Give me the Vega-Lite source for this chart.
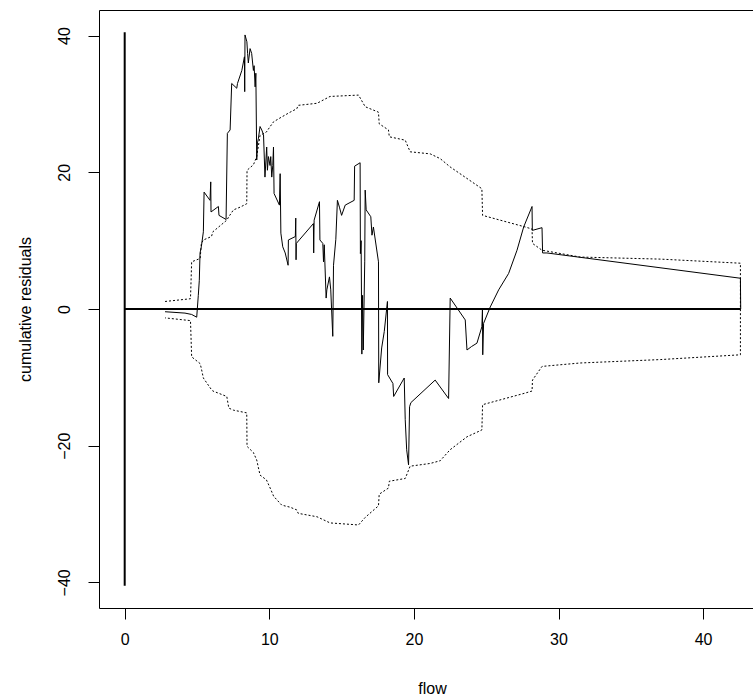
{
  "$schema": "https://vega.github.io/schema/vega-lite/v6.json",
  "width": 654,
  "height": 598,
  "autosize": {"type": "none"},
  "padding": {"left": 99, "top": 10, "right": 0, "bottom": 90},
  "background": "white",
  "config": {
    "view": {"stroke": null},
    "axis": {
      "labelFont": "Liberation Sans", "titleFont": "Liberation Sans",
      "labelFontSize": 16, "titleFontSize": 16, "titleFontWeight": "normal",
      "labelColor": "#000", "titleColor": "#000", "tickColor": "#000", "domainColor": "#000",
      "grid": false, "tickSize": 11, "tickWidth": 1, "domainWidth": 1
    }
  },
  "datasets": {
    "band": [
      {"x":2.79,"y":1.1,"o":1},{"x":4.55,"y":1.5,"o":2},{"x":4.63,"y":6.9,"o":3},{"x":5.22,"y":7.4,"o":4},{"x":5.3,"y":9.6,"o":5},{"x":5.44,"y":10.1,"o":6},{"x":6.0,"y":10.6,"o":7},{"x":6.1,"y":11.3,"o":8},{"x":7.06,"y":13.0,"o":9},{"x":7.2,"y":13.5,"o":10},{"x":7.52,"y":14.5,"o":11},{"x":7.98,"y":14.9,"o":12},{"x":8.44,"y":15.4,"o":13},{"x":8.46,"y":20.3,"o":14},{"x":8.9,"y":21.1,"o":15},{"x":9.13,"y":22.3,"o":16},{"x":9.36,"y":25.4,"o":17},{"x":9.8,"y":25.9,"o":18},{"x":10.06,"y":26.7,"o":19},{"x":10.3,"y":27.4,"o":20},{"x":10.86,"y":28.1,"o":21},{"x":11.44,"y":28.8,"o":22},{"x":11.9,"y":29.3,"o":23},{"x":12.0,"y":29.8,"o":24},{"x":13.3,"y":30.1,"o":25},{"x":14.2,"y":31.1,"o":26},{"x":16.17,"y":31.3,"o":27},{"x":16.63,"y":29.6,"o":28},{"x":17.55,"y":28.8,"o":29},{"x":17.6,"y":27.1,"o":30},{"x":18.24,"y":26.2,"o":31},{"x":18.3,"y":25.2,"o":32},{"x":19.4,"y":24.7,"o":33},{"x":19.74,"y":23.0,"o":34},{"x":21.13,"y":22.7,"o":35},{"x":21.82,"y":22.0,"o":36},{"x":22.5,"y":20.8,"o":37},{"x":23.67,"y":19.1,"o":38},{"x":24.7,"y":17.6,"o":39},{"x":24.75,"y":13.7,"o":40},{"x":27.7,"y":12.0,"o":41},{"x":28.17,"y":11.7,"o":42},{"x":28.2,"y":9.6,"o":43},{"x":28.86,"y":8.6,"o":44},{"x":31.5,"y":7.6,"o":45},{"x":37.05,"y":7.3,"o":46},{"x":42.58,"y":6.7,"o":47},
      {"x":42.58,"y":-6.7,"o":48},{"x":37.05,"y":-7.4,"o":49},{"x":31.5,"y":-7.9,"o":50},{"x":28.86,"y":-8.4,"o":51},{"x":28.2,"y":-10.4,"o":52},{"x":28.17,"y":-12.0,"o":53},{"x":27.7,"y":-12.3,"o":54},{"x":24.75,"y":-14.0,"o":55},{"x":24.7,"y":-17.7,"o":56},{"x":23.67,"y":-18.7,"o":57},{"x":22.5,"y":-20.6,"o":58},{"x":21.82,"y":-22.2,"o":59},{"x":21.13,"y":-22.6,"o":60},{"x":19.74,"y":-23.0,"o":61},{"x":19.4,"y":-24.8,"o":62},{"x":18.3,"y":-25.2,"o":63},{"x":18.24,"y":-26.2,"o":64},{"x":17.6,"y":-27.1,"o":65},{"x":17.55,"y":-28.8,"o":66},{"x":16.63,"y":-30.5,"o":67},{"x":16.17,"y":-31.6,"o":68},{"x":14.2,"y":-31.3,"o":69},{"x":13.3,"y":-30.4,"o":70},{"x":12.0,"y":-29.9,"o":71},{"x":11.9,"y":-29.4,"o":72},{"x":11.44,"y":-29.0,"o":73},{"x":10.86,"y":-28.7,"o":74},{"x":10.3,"y":-27.4,"o":75},{"x":10.06,"y":-26.2,"o":76},{"x":9.8,"y":-25.0,"o":77},{"x":9.36,"y":-24.3,"o":78},{"x":9.13,"y":-22.1,"o":79},{"x":8.9,"y":-21.0,"o":80},{"x":8.46,"y":-20.1,"o":81},{"x":8.44,"y":-15.2,"o":82},{"x":7.98,"y":-15.0,"o":83},{"x":7.52,"y":-14.8,"o":84},{"x":7.2,"y":-14.5,"o":85},{"x":7.06,"y":-12.8,"o":86},{"x":6.1,"y":-12.0,"o":87},{"x":6.0,"y":-11.8,"o":88},{"x":5.44,"y":-10.1,"o":89},{"x":5.3,"y":-8.7,"o":90},{"x":5.22,"y":-8.0,"o":91},{"x":4.63,"y":-7.0,"o":92},{"x":4.55,"y":-1.7,"o":93},{"x":2.79,"y":-1.3,"o":94}
    ],
    "curve": [
      {"i":1,"x":2.79,"y":-0.4},{"i":2,"x":4.17,"y":-0.6},{"i":3,"x":4.63,"y":-0.8},{"i":4,"x":4.98,"y":-1.2},{"i":5,"x":5.09,"y":2.0},{"i":6,"x":5.16,"y":4.2},{"i":7,"x":5.21,"y":8.2},{"i":8,"x":5.3,"y":9.1},{"i":9,"x":5.44,"y":11.3},{"i":10,"x":5.49,"y":17.1},
      {"i":11,"x":5.9,"y":15.9},{"i":12,"x":5.95,"y":18.6},{"i":13,"x":5.97,"y":14.2},{"i":14,"x":6.48,"y":15.0},{"i":15,"x":6.52,"y":13.7},{"i":16,"x":7.01,"y":13.1},{"i":17,"x":7.1,"y":25.7},{"i":18,"x":7.29,"y":26.2},{"i":19,"x":7.4,"y":33.0},{"i":20,"x":7.75,"y":32.3},
      {"i":21,"x":7.8,"y":33.0},{"i":22,"x":8.1,"y":34.9},{"i":23,"x":8.28,"y":36.9},{"i":24,"x":8.3,"y":31.8},{"i":25,"x":8.32,"y":40.1},{"i":26,"x":8.45,"y":39.1},{"i":27,"x":8.5,"y":37.4},{"i":28,"x":8.55,"y":36.0},{"i":29,"x":8.67,"y":38.1},{"i":30,"x":8.78,"y":37.4},
      {"i":31,"x":8.9,"y":34.9},{"i":32,"x":8.95,"y":35.6},{"i":33,"x":9.02,"y":32.5},{"i":34,"x":9.07,"y":34.5},{"i":35,"x":9.13,"y":21.8},{"i":36,"x":9.18,"y":24.3},{"i":37,"x":9.25,"y":25.0},{"i":38,"x":9.36,"y":26.7},{"i":39,"x":9.48,"y":26.2},{"i":40,"x":9.6,"y":25.5},
      {"i":41,"x":9.7,"y":19.3},{"i":42,"x":9.82,"y":23.7},{"i":43,"x":9.87,"y":20.3},{"i":44,"x":9.94,"y":22.3},{"i":45,"x":10.05,"y":21.0},{"i":46,"x":10.1,"y":22.3},{"i":47,"x":10.17,"y":19.3},{"i":48,"x":10.24,"y":21.0},{"i":49,"x":10.29,"y":23.7},{"i":50,"x":10.33,"y":16.9},
      {"i":51,"x":10.7,"y":15.2},{"i":52,"x":10.75,"y":19.8},{"i":53,"x":10.8,"y":11.1},{"i":54,"x":10.93,"y":9.1},{"i":55,"x":11.1,"y":8.2},{"i":56,"x":11.3,"y":6.4},{"i":57,"x":11.32,"y":10.1},{"i":58,"x":11.8,"y":10.6},{"i":59,"x":11.83,"y":13.3},{"i":60,"x":11.85,"y":7.2},
      {"i":61,"x":11.87,"y":9.6},{"i":62,"x":13.05,"y":12.5},{"i":63,"x":13.07,"y":8.2},{"i":64,"x":13.1,"y":13.0},{"i":65,"x":13.47,"y":15.7},{"i":66,"x":13.5,"y":10.1},{"i":67,"x":13.7,"y":9.6},{"i":68,"x":13.75,"y":6.9},{"i":69,"x":13.8,"y":9.4},{"i":70,"x":13.93,"y":1.6},
      {"i":71,"x":13.98,"y":2.8},{"i":72,"x":14.16,"y":4.7},{"i":73,"x":14.25,"y":2.8},{"i":74,"x":14.39,"y":-4.0},{"i":75,"x":14.44,"y":6.4},{"i":76,"x":14.6,"y":10.2},{"i":77,"x":14.71,"y":15.9},{"i":78,"x":14.85,"y":14.9},{"i":79,"x":15.0,"y":13.7},{"i":80,"x":15.25,"y":15.2},
      {"i":81,"x":15.87,"y":15.9},{"i":82,"x":15.9,"y":20.9},{"i":83,"x":16.28,"y":21.4},{"i":84,"x":16.3,"y":8.1},{"i":85,"x":16.35,"y":10.0},{"i":86,"x":16.4,"y":-6.6},{"i":87,"x":16.45,"y":2.0},{"i":88,"x":16.5,"y":-6.0},{"i":89,"x":16.6,"y":7.0},{"i":90,"x":16.63,"y":17.4},
      {"i":91,"x":16.7,"y":14.5},{"i":92,"x":17.02,"y":13.5},{"i":93,"x":17.1,"y":10.8},{"i":94,"x":17.2,"y":12.0},{"i":95,"x":17.55,"y":6.9},{"i":96,"x":17.57,"y":-10.8},{"i":97,"x":17.77,"y":-5.7},{"i":98,"x":17.95,"y":-3.3},{"i":99,"x":18.17,"y":1.1},{"i":100,"x":18.18,"y":-9.6},
      {"i":101,"x":18.55,"y":-10.9},{"i":102,"x":18.6,"y":-12.8},{"i":103,"x":19.33,"y":-10.1},{"i":104,"x":19.4,"y":-16.2},{"i":105,"x":19.5,"y":-20.6},{"i":106,"x":19.63,"y":-22.8},{"i":107,"x":19.7,"y":-14.3},{"i":108,"x":19.79,"y":-13.7},{"i":109,"x":21.47,"y":-10.4},{"i":110,"x":22.4,"y":-13.1},
      {"i":111,"x":22.51,"y":1.6},{"i":112,"x":23.55,"y":-1.6},{"i":113,"x":23.67,"y":-6.0},{"i":114,"x":23.98,"y":-5.5},{"i":115,"x":24.36,"y":-5.0},{"i":116,"x":24.7,"y":-2.6},{"i":117,"x":24.74,"y":-0.1},{"i":118,"x":24.76,"y":-6.7},{"i":119,"x":24.82,"y":-2.1},{"i":120,"x":25.28,"y":0.3},
      {"i":121,"x":25.86,"y":2.8},{"i":122,"x":26.55,"y":5.2},{"i":123,"x":27.13,"y":8.6},{"i":124,"x":27.59,"y":12.0},{"i":125,"x":28.17,"y":15.0},{"i":126,"x":28.19,"y":11.5},{"i":127,"x":28.86,"y":11.9},{"i":128,"x":28.9,"y":8.2},{"i":129,"x":29.2,"y":8.2},{"i":130,"x":42.58,"y":4.5},
      {"i":131,"x":42.6,"y":0}
    ],
    "hline": [{"x":0,"x2":42.6,"y":0}],
    "vline": [{"x":0,"y":-40.5,"y2":40.5}]
  },
  "resolve": {"axis": {"x": "independent"}},
  "layer": [
    {
      "data": {"name": "band"},
      "mark": {"type": "line", "color": "#000", "strokeWidth": 1, "strokeDash": [2, 2]},
      "encoding": {
        "x": {"field": "x", "type": "quantitative", "scale": {"domain": [-1.777, 43.45], "nice": false, "zero": false},
          "axis": {"orient": "bottom", "values": [0, 10, 20, 30, 40], "labelPadding": 12, "title": "flow", "titleX": 333, "titleY": 80, "titleBaseline": "middle", "titleAlign": "center"}},
        "y": {"field": "y", "type": "quantitative", "scale": {"domain": [-43.75, 43.75], "nice": false, "zero": false},
          "axis": {"values": [-40, -20, 0, 20, 40], "labelAngle": 270, "labelAlign": "center", "labelBaseline": "bottom", "labelPadding": 16, "title": "cumulative residuals", "titleAngle": 270, "titleX": -74, "titleY": 299, "titleBaseline": "middle", "titleAlign": "center"}},
        "order": {"field": "o", "type": "quantitative"}
      }
    },
    {
      "data": {"name": "curve"},
      "mark": {"type": "line", "color": "#000", "strokeWidth": 1},
      "encoding": {
        "x": {"field": "x", "type": "quantitative", "axis": null},
        "y": {"field": "y", "type": "quantitative"},
        "order": {"field": "i", "type": "quantitative"}
      }
    },
    {
      "data": {"name": "hline"},
      "mark": {"type": "rule", "color": "#000", "strokeWidth": 2},
      "encoding": {
        "x": {"field": "x", "type": "quantitative", "axis": {"orient": "top", "labels": false, "ticks": false, "title": null, "domain": true}},
        "x2": {"field": "x2"},
        "y": {"field": "y", "type": "quantitative"}
      }
    },
    {
      "data": {"name": "vline"},
      "mark": {"type": "rule", "color": "#000", "strokeWidth": 2},
      "encoding": {
        "x": {"field": "x", "type": "quantitative", "axis": null},
        "y": {"field": "y", "type": "quantitative"},
        "y2": {"field": "y2"}
      }
    }
  ]
}
